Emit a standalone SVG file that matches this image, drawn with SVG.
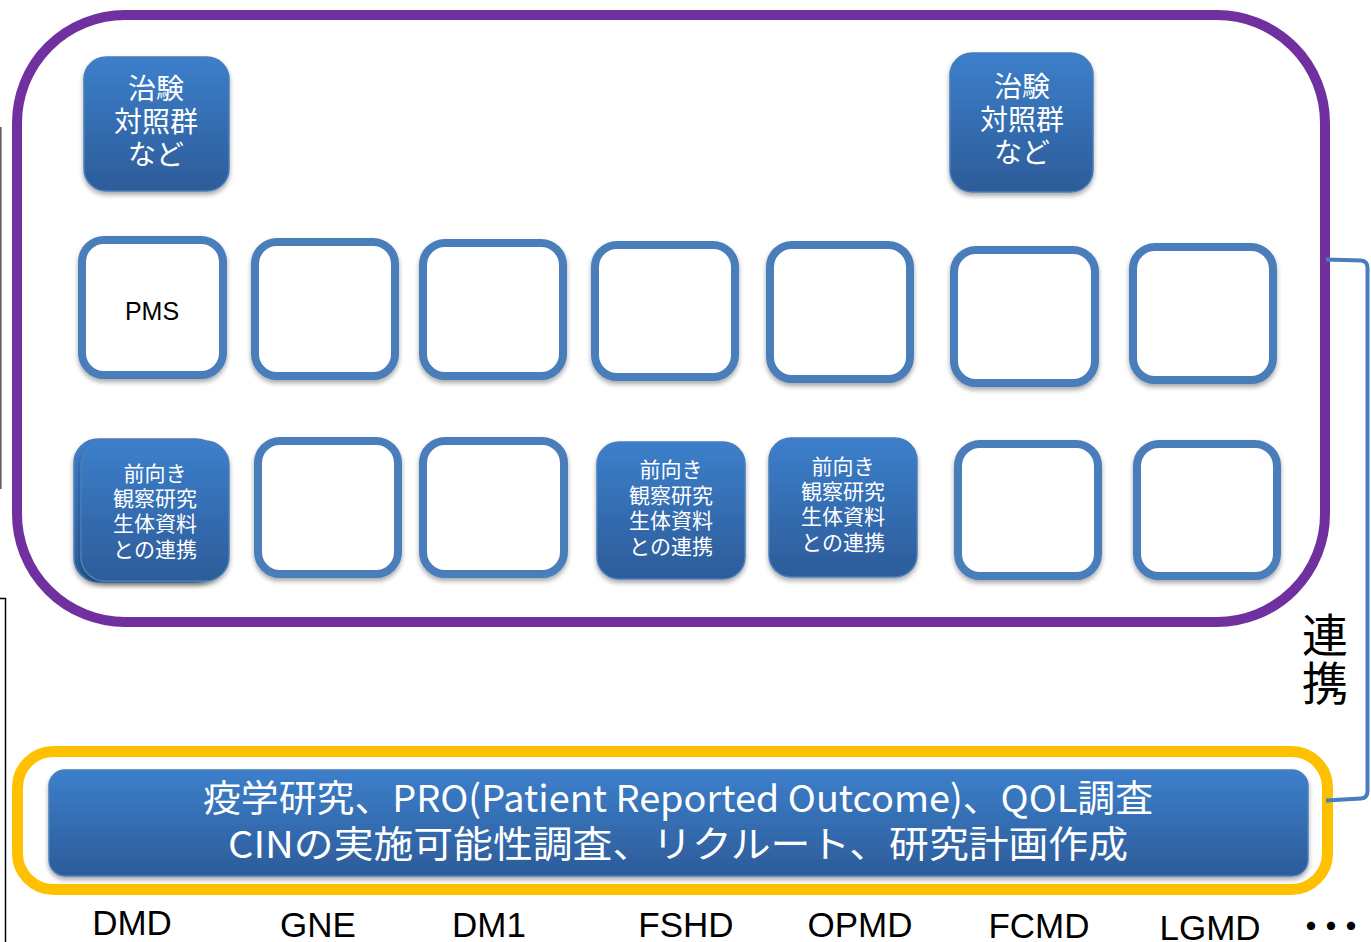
<svg xmlns="http://www.w3.org/2000/svg" width="1371" height="942" viewBox="0 0 1371 942">
<defs>
<linearGradient id="bg" x1="0" y1="0" x2="0" y2="1">
<stop offset="0" stop-color="#3C7FCB"/>
<stop offset="1" stop-color="#2D5C99"/>
</linearGradient>
<filter id="sh" x="-10%" y="-10%" width="125%" height="130%">
<feGaussianBlur in="SourceAlpha" stdDeviation="2.5"/>
<feOffset dx="0" dy="3" result="b"/>
<feComponentTransfer><feFuncA type="linear" slope="0.35"/></feComponentTransfer>
<feMerge><feMergeNode/><feMergeNode in="SourceGraphic"/></feMerge>
</filter>
<style>
.fill{fill:url(#bg);stroke:#4A7EBB;stroke-width:1.5;filter:url(#sh)}
.box{fill:#fff;stroke:#4A7EBB;stroke-width:8;filter:url(#sh)}
.jw{font-family:"Noto Sans CJK JP","Noto Sans",sans-serif;fill:#fff;text-anchor:middle}
.t28{font-size:28px}
.t21{font-size:21px}
.lab{font-family:"Liberation Sans",Arial,sans-serif;font-size:35px;fill:#000;text-anchor:middle}
</style>
</defs>
<rect width="1371" height="942" fill="#fff"/>

<g id="edge-lines" fill="none">
<line x1="0.8" y1="127" x2="0.8" y2="489" stroke="#555" stroke-width="1.5"/>
<path d="M0,598.5 H5.5 V942" stroke="#000" stroke-width="1.5"/>
</g>

<g id="purple-group">
<rect x="17" y="15" width="1308" height="607" rx="108" fill="none" stroke="#7030A0" stroke-width="10"/>
</g>
<g id="yellow-group">
<rect x="17.5" y="751.5" width="1310" height="138" rx="36" fill="none" stroke="#FFC000" stroke-width="11"/>
</g>

<g id="connectors">
<path d="M1326,259.5 L1361,260.5 Q1367.5,261 1367.5,268 L1367.5,791 Q1367.5,798 1361,798.5 L1326,800.5" fill="none" stroke="#4A7EBB" stroke-width="4"/>
</g>
<g id="renkei-label">
<text x="1325" y="652" font-family="Noto Sans CJK JP,sans-serif" font-size="46" text-anchor="middle" fill="#000">連</text>
<text x="1325" y="700" font-family="Noto Sans CJK JP,sans-serif" font-size="46" text-anchor="middle" fill="#000">携</text>
</g>

<g id="bar">
<rect class="fill" x="49" y="770" width="1259" height="106" rx="16"/>
<text class="jw" x="678" y="812" font-size="37" textLength="950" lengthAdjust="spacingAndGlyphs">疫学研究、PRO(Patient Reported Outcome)、QOL調査</text>
<text class="jw" x="678" y="858" font-size="37" textLength="900" lengthAdjust="spacingAndGlyphs">CINの実施可能性調査、リクルート、研究計画作成</text>
</g>

<g id="trial-1">
<rect class="fill" x="84" y="57" width="145" height="134" rx="22"/>
<text class="jw t28" x="156" y="99">治験</text>
<text class="jw t28" x="156" y="132">対照群</text>
<text class="jw t28" x="156" y="165">など</text>
</g>
<g id="trial-2">
<rect class="fill" x="950" y="53" width="143" height="139" rx="22"/>
<text class="jw t28" x="1022" y="97">治験</text>
<text class="jw t28" x="1022" y="130">対照群</text>
<text class="jw t28" x="1022" y="163">など</text>
</g>

<g id="pms">
<rect class="box" x="82" y="240" width="141" height="135" rx="22" stroke-width="12"/>
<text x="152" y="320" font-family="Liberation Sans,Arial,sans-serif" font-size="25" text-anchor="middle" fill="#000">PMS</text>
</g>
<g id="mid-2"><rect class="box" x="255" y="242" width="140" height="134" rx="22"/></g>
<g id="mid-3"><rect class="box" x="423" y="243" width="140" height="133" rx="22"/></g>
<g id="mid-4"><rect class="box" x="595" y="245" width="140" height="132" rx="22"/></g>
<g id="mid-5"><rect class="box" x="770" y="245" width="140" height="134" rx="22"/></g>
<g id="mid-6"><rect class="box" x="954" y="250" width="141" height="133" rx="22"/></g>
<g id="mid-7"><rect class="box" x="1133" y="247" width="140" height="133" rx="22"/></g>

<g id="pro-1">
<rect class="fill" x="74" y="439" width="146" height="143" rx="24"/>
<rect class="fill" x="81" y="441" width="148" height="140" rx="24"/>
<text class="jw t21" x="155" y="481">前向き</text>
<text class="jw t21" x="155" y="506">観察研究</text>
<text class="jw t21" x="155" y="531">生体資料</text>
<text class="jw t21" x="155" y="557">との連携</text>
</g>
<g id="low-2"><rect class="box" x="258" y="441" width="140" height="133" rx="22"/></g>
<g id="low-3"><rect class="box" x="423" y="441" width="141" height="133" rx="22"/></g>
<g id="pro-4">
<rect class="fill" x="597" y="442" width="148" height="137" rx="22"/>
<text class="jw t21" x="671" y="477">前向き</text>
<text class="jw t21" x="671" y="503">観察研究</text>
<text class="jw t21" x="671" y="528">生体資料</text>
<text class="jw t21" x="671" y="554">との連携</text>
</g>
<g id="pro-5">
<rect class="fill" x="769" y="438" width="148" height="139" rx="22"/>
<text class="jw t21" x="843" y="474">前向き</text>
<text class="jw t21" x="843" y="499">観察研究</text>
<text class="jw t21" x="843" y="524">生体資料</text>
<text class="jw t21" x="843" y="550">との連携</text>
</g>
<g id="low-6"><rect class="box" x="958" y="444" width="140" height="132" rx="22"/></g>
<g id="low-7"><rect class="box" x="1137" y="444" width="140" height="132" rx="22"/></g>

<g id="disease-labels">
<text class="lab" x="132" y="935">DMD</text>
<text class="lab" x="318" y="937">GNE</text>
<text class="lab" x="489" y="937">DM1</text>
<text class="lab" x="686" y="937">FSHD</text>
<text class="lab" x="860" y="937">OPMD</text>
<text class="lab" x="1039" y="938">FCMD</text>
<text class="lab" x="1210" y="940">LGMD</text>
<text y="938" font-family="Noto Sans CJK JP,sans-serif" font-weight="bold" font-size="32" text-anchor="middle" fill="#000"><tspan x="1311">・</tspan><tspan x="1331">・</tspan><tspan x="1351">・</tspan></text>
</g>
</svg>
